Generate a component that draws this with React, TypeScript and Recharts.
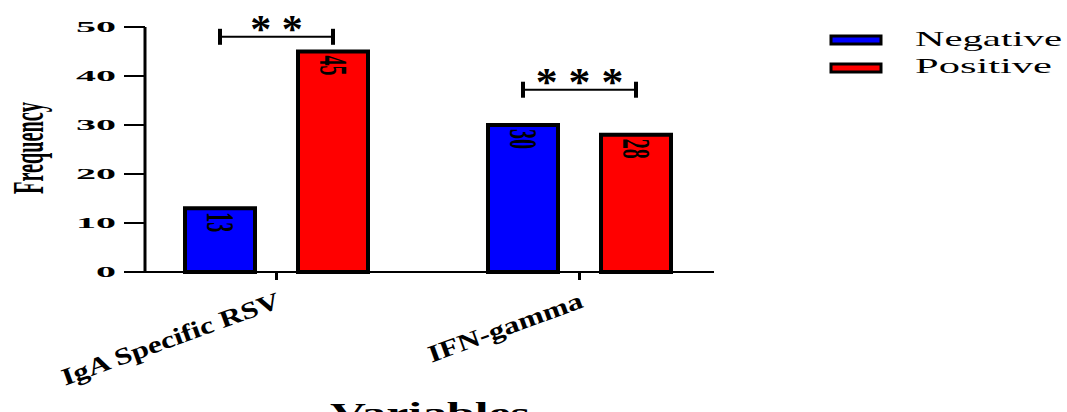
import { BarChart, Bar, XAxis, YAxis, LabelList } from 'recharts';

const categories = ['IgA Specific RSV', 'IFN-gamma'];
const negativeValues = [13, 30];
const positiveValues = [45, 28];
const significance = ['* *', '* * *'];
const bracketLevels = [48, 37.2];
const yTicks = [0, 10, 20, 30, 40, 50];
const seriesNames = ['Negative', 'Positive'];
const seriesColors = ['#0000FF', '#FF0000'];

const rows = categories.map((name, i) => ({
  name,
  negative: negativeValues[i],
  positive: positiveValues[i],
}));

const BAR_SIZE = 70;
const BAR_GAP = 43;
const serif = 'Liberation Serif';

const YTick = (props: any) => {
  const { x, y, payload } = props;
  const s = String(payload.value);
  return (
    <text x={x} y={y + 5} textAnchor="end" fontFamily={serif} fontWeight="bold" fontSize={15}
      textLength={s.length * 20} lengthAdjust="spacingAndGlyphs" fill="#000">
      {s}
    </text>
  );
};

// category labels: tilted, a bit wider than the natural font
const XTick = (props: any) => {
  const { x, y, payload } = props;
  return (
    <g transform={`translate(${x + 5},${y + 25}) rotate(-20) scale(1.3,1)`}>
      <text x={0} y={0} textAnchor="end" fontFamily={serif} fontWeight="bold" fontSize={24} fill="#000">
        {payload.value}
      </text>
    </g>
  );
};

const valueLabel = (props: any) => {
  const { x, y, width, value } = props;
  const cx = x + width / 2;
  const top = y + 4;
  const s = String(value);
  return (
    <text transform={`translate(${cx - 13},${top}) rotate(90)`} x={0} y={0} fontFamily={serif}
      fontSize={40} fontWeight="bold" fill="#000" textAnchor="start" textLength={s.length * 10}
      lengthAdjust="spacingAndGlyphs">
      {s}
    </text>
  );
};

const negLabel = (props: any) => {
  const { x, y, width, height, value, index } = props;
  const i = typeof index === 'number' ? index : negativeValues.indexOf(value);
  const unit = height / value;
  const base = y + height;
  const by = base - bracketLevels[i] * unit;
  const x1 = x + width / 2;
  const x2 = x1 + width + BAR_GAP;
  const stars = significance[i];
  return (
    <g>
      {valueLabel(props)}
      <line x1={x1} x2={x2} y1={by} y2={by} stroke="#000" strokeWidth={2} />
      <line x1={x1} x2={x1} y1={by - 8} y2={by + 8} stroke="#000" strokeWidth={4} />
      <line x1={x2} x2={x2} y1={by - 8} y2={by + 8} stroke="#000" strokeWidth={4} />
      <text x={(x1 + x2) / 2} y={by + 5} textAnchor="middle" fontFamily={serif} fontWeight="bold"
        fontSize={40} textLength={stars.length * 17.5} lengthAdjust="spacingAndGlyphs" fill="#000">
        {stars}
      </text>
    </g>
  );
};

const LegendBox = () => (
  <svg width={249} height={60} style={{ position: 'absolute', left: 818, top: 24 }}>
    {seriesNames.map((n, i) => (
      <g key={n}>
        <rect x={13} y={12 + i * 28} width={50} height={8} fill={seriesColors[i]} stroke="#000" strokeWidth={3} />
        <text x={97} y={22 + i * 27} fontFamily={serif} fontSize={22} fill="#000"
          textLength={n === 'Negative' ? 147 : 137} lengthAdjust="spacingAndGlyphs">
          {n}
        </text>
      </g>
    ))}
  </svg>
);

export default function App() {
  return (
    <div style={{ position: 'absolute', left: 0, top: 0, width: 1067, height: 412, background: '#fff' }}>
      <BarChart width={1067} height={412} data={rows} barSize={BAR_SIZE} barGap={BAR_GAP}
        margin={{ top: 27, right: 353, bottom: 80, left: 0 }}>
        <XAxis dataKey="name" height={60} padding={{ left: -20, right: -17 }}
          axisLine={{ stroke: '#000', strokeWidth: 2 }} tickLine={{ stroke: '#000', strokeWidth: 3 }}
          tickSize={8} tick={<XTick />} interval={0}
          label={() => (
            <text x={430} y={423} textAnchor="middle" fontFamily={serif} fontWeight="bold" fontSize={30}
              textLength={200} lengthAdjust="spacingAndGlyphs" fill="#000">
              Variables
            </text>
          )} />
        <YAxis width={145} domain={[0, 50]} ticks={yTicks} interval={0}
          axisLine={{ stroke: '#000', strokeWidth: 3 }} tickLine={{ stroke: '#000', strokeWidth: 2 }}
          tickSize={21} tickMargin={8} tick={<YTick />}
          label={() => (
            <text transform="translate(43,148) rotate(-90)" x={0} y={0} textAnchor="middle"
              fontFamily={serif} fontSize={44} fontWeight="bold" textLength={92} lengthAdjust="spacingAndGlyphs"
              fill="#000">
              Frequency
            </text>
          )} />
        <Bar dataKey="negative" name="Negative" fill={seriesColors[0]} stroke="#000" strokeWidth={4}
          isAnimationActive={false}>
          <LabelList dataKey="negative" content={negLabel} />
        </Bar>
        <Bar dataKey="positive" name="Positive" fill={seriesColors[1]} stroke="#000" strokeWidth={4}
          isAnimationActive={false}>
          <LabelList dataKey="positive" content={valueLabel} />
        </Bar>
      </BarChart>
      <LegendBox />
    </div>
  );
}
